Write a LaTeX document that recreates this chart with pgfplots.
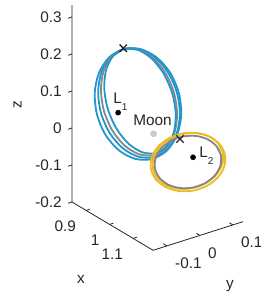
\documentclass[border=0pt]{standalone}
\usepackage{pgfplots}
\pgfplotsset{compat=1.18}
\usepackage{fontspec}
\setmainfont{Liberation Sans}
\definecolor{orbblue}{RGB}{32,150,205}
\definecolor{orbgray}{RGB}{135,135,135}
\definecolor{orbyellow}{RGB}{237,188,35}
\definecolor{moongray}{RGB}{200,200,206}
\definecolor{axcol}{RGB}{38,38,38}
\tikzset{lbl/.style={font=\fontsize{11.5}{13}\selectfont, text=axcol, inner sep=0pt}}
\newcommand{\sub}[1]{\raisebox{-5.25pt}{\fontsize{7.5}{8}\selectfont #1}}
\begin{document}
\begin{tikzpicture}
\begin{axis}[
  x={(176.25pt,-105pt)}, y={(247.5pt,78.75pt)}, z={(0pt,277.5pt)},
  hide axis, clip=false,
  xmin=0.84, xmax=1.185, ymin=-0.142, ymax=0.131, zmin=-0.2, zmax=0.332,
]
\coordinate (corner) at (axis cs:0.84,-0.142,-0.2);
% axis lines
\draw[axcol, line width=0.6pt] (axis cs:0.84,-0.142,0.332) -- (axis cs:0.84,-0.142,-0.2) -- (axis cs:1.185,-0.142,-0.2) -- (axis cs:1.185,0.131,-0.2);
% z ticks
\draw[axcol, line width=0.6pt] (axis cs:0.84,-0.142,-0.2) -- (axis cs:0.84,-0.154,-0.2)
 (axis cs:0.84,-0.142,-0.1) -- (axis cs:0.84,-0.154,-0.1)
 (axis cs:0.84,-0.142,0) -- (axis cs:0.84,-0.154,0)
 (axis cs:0.84,-0.142,0.1) -- (axis cs:0.84,-0.154,0.1)
 (axis cs:0.84,-0.142,0.2) -- (axis cs:0.84,-0.154,0.2)
 (axis cs:0.84,-0.142,0.3) -- (axis cs:0.84,-0.154,0.3);
% x ticks
\draw[axcol, line width=0.6pt] (axis cs:0.9,-0.142,-0.2) -- (axis cs:0.9,-0.130,-0.2)
 (axis cs:1.0,-0.142,-0.2) -- (axis cs:1.0,-0.130,-0.2)
 (axis cs:1.1,-0.142,-0.2) -- (axis cs:1.1,-0.130,-0.2);
% y ticks
\draw[axcol, line width=0.6pt] (axis cs:1.185,-0.1,-0.2) -- (axis cs:1.170,-0.1,-0.2)
 (axis cs:1.185,0,-0.2) -- (axis cs:1.170,0,-0.2)
 (axis cs:1.185,0.1,-0.2) -- (axis cs:1.170,0.1,-0.2);
% tick labels
\node[lbl, anchor=east, xshift=-7.5pt] at (axis cs:0.84,-0.142,-0.2) {-0.2};
\node[lbl, anchor=east, xshift=-7.5pt] at (axis cs:0.84,-0.142,-0.1) {-0.1};
\node[lbl, anchor=east, xshift=-7.5pt] at (axis cs:0.84,-0.142,0) {0};
\node[lbl, anchor=east, xshift=-7.5pt] at (axis cs:0.84,-0.142,0.1) {0.1};
\node[lbl, anchor=east, xshift=-7.5pt] at (axis cs:0.84,-0.142,0.2) {0.2};
\node[lbl, anchor=east, xshift=-7.5pt] at (axis cs:0.84,-0.142,0.3) {0.3};
\node[lbl, anchor=north east, xshift=-7.5pt, yshift=-7.5pt] at (axis cs:0.9,-0.142,-0.2) {0.9};
\node[lbl, anchor=north east, xshift=-7.5pt, yshift=-7.5pt] at (axis cs:1.0,-0.142,-0.2) {1};
\node[lbl, anchor=north east, xshift=-7.5pt, yshift=-7.5pt] at (axis cs:1.1,-0.142,-0.2) {1.1};
\node[lbl, anchor=north west, xshift=6pt, yshift=-9pt] at (axis cs:1.185,-0.1,-0.2) {-0.1};
\node[lbl, anchor=north west, xshift=6pt, yshift=-9pt] at (axis cs:1.185,0,-0.2) {0};
\node[lbl, anchor=north west, xshift=6pt, yshift=-9pt] at (axis cs:1.185,0.1,-0.2) {0.1};
% axis labels
\node[lbl, rotate=90] at ([xshift=-40.9pt]axis cs:0.84,-0.142,0.062) {z};
\node[lbl] at ([xshift=6.75pt, yshift=-57.75pt]corner) {x};
\node[lbl] at ([xshift=118.5pt, yshift=-63pt]corner) {y};

% L1 orbits
\addplot3[orbblue, line width=1.35pt, smooth] coordinates {
(0.87,-0.0502,0.1766) (0.87,-0.0058,0.1862) (0.87,0.0450,0.1714) (0.87,0.0944,0.1342) (0.87,0.1352,0.0806)
(0.87,0.1608,0.0186) (0.87,0.1676,-0.0424) (0.87,0.1544,-0.0930) (0.87,0.1234,-0.1256)
(0.87,0.0790,-0.1352) (0.87,0.0282,-0.1204) (0.87,-0.0212,-0.0832) (0.87,-0.0620,-0.0296)
(0.87,-0.0876,0.0324) (0.87,-0.0944,0.0934) (0.87,-0.0812,0.1440) (0.87,-0.0502,0.1766)
(0.87,-0.0058,0.1862) (0.87,0.0450,0.1714)};
\addplot3[orbblue, line width=1.35pt, smooth] coordinates {
(0.87,-0.0464,0.1762) (0.87,-0.0058,0.1862) (0.87,0.0418,0.1720) (0.87,0.0889,0.1357) (0.87,0.1287,0.0830)
(0.87,0.1549,0.0218) (0.87,0.1635,-0.0386) (0.87,0.1533,-0.0889) (0.87,0.1258,-0.1214)
(0.87,0.0852,-0.1314) (0.87,0.0376,-0.1172) (0.87,-0.0095,-0.0809) (0.87,-0.0493,-0.0282)
(0.87,-0.0755,0.0330) (0.87,-0.0841,0.0934) (0.87,-0.0739,0.1437) (0.87,-0.0464,0.1762)
(0.87,-0.0058,0.1862) (0.87,0.0418,0.1720)};
\addplot3[orbgray, line width=1.35pt, smooth] coordinates {
(0.87,-0.0429,0.1765) (0.87,-0.0058,0.1862) (0.87,0.0383,0.1721) (0.87,0.0825,0.1364) (0.87,0.1203,0.0845)
(0.87,0.1458,0.0243) (0.87,0.1551,-0.0351) (0.87,0.1469,-0.0844) (0.87,0.1223,-0.1163)
(0.87,0.0852,-0.1260) (0.87,0.0411,-0.1119) (0.87,-0.0031,-0.0762) (0.87,-0.0409,-0.0243)
(0.87,-0.0664,0.0359) (0.87,-0.0757,0.0953) (0.87,-0.0675,0.1446) (0.87,-0.0429,0.1765)
(0.87,-0.0058,0.1862) (0.87,0.0383,0.1721)};
\addplot3[orbblue, line width=1.35pt, smooth] coordinates {
(0.87,-0.0393,0.1762) (0.87,-0.0058,0.1862) (0.87,0.0351,0.1728) (0.87,0.0770,0.1378) (0.87,0.1137,0.0868)
(0.87,0.1397,0.0274) (0.87,0.1509,-0.0314) (0.87,0.1456,-0.0804) (0.87,0.1247,-0.1124)
(0.87,0.0912,-0.1224) (0.87,0.0503,-0.1090) (0.87,0.0084,-0.0740) (0.87,-0.0283,-0.0230)
(0.87,-0.0543,0.0364) (0.87,-0.0655,0.0952) (0.87,-0.0602,0.1442) (0.87,-0.0393,0.1762)
(0.87,-0.0058,0.1862) (0.87,0.0351,0.1728)};

% L2 orbits
\addplot3[orbyellow, line width=1.35pt, smooth] coordinates {
(1.16,0.0788,0.0135) (1.16,0.0937,-0.0188) (1.16,0.0916,-0.0491) (1.16,0.0727,-0.0728) (1.16,0.0399,-0.0864)
(1.16,-0.0017,-0.0877) (1.16,-0.0459,-0.0766) (1.16,-0.0859,-0.0546) (1.16,-0.1156,-0.0253)
(1.16,-0.1305,0.0070) (1.16,-0.1284,0.0373) (1.16,-0.1095,0.0610) (1.16,-0.0767,0.0746)
(1.16,-0.0351,0.0759) (1.16,0.0091,0.0648) (1.16,0.0491,0.0428) (1.16,0.0788,0.0135)
(1.16,0.0937,-0.0188) (1.16,0.0916,-0.0491)};
\addplot3[orbyellow, line width=1.35pt, smooth] coordinates {
(1.16,0.0738,0.0173) (1.16,0.0877,-0.0130) (1.16,0.0854,-0.0419) (1.16,0.0673,-0.0648) (1.16,0.0362,-0.0784)
(1.16,-0.0032,-0.0805) (1.16,-0.0450,-0.0708) (1.16,-0.0827,-0.0510) (1.16,-0.1106,-0.0237)
(1.16,-0.1245,0.0066) (1.16,-0.1222,0.0355) (1.16,-0.1041,0.0584) (1.16,-0.0730,0.0720)
(1.16,-0.0336,0.0741) (1.16,0.0082,0.0644) (1.16,0.0459,0.0446) (1.16,0.0738,0.0173)
(1.16,0.0877,-0.0130) (1.16,0.0854,-0.0419)};
\addplot3[orbgray, line width=1.35pt, smooth] coordinates {
(1.16,0.0682,0.0121) (1.16,0.0816,-0.0167) (1.16,0.0798,-0.0439) (1.16,0.0630,-0.0653) (1.16,0.0339,-0.0776)
(1.16,-0.0032,-0.0791) (1.16,-0.0427,-0.0694) (1.16,-0.0784,-0.0501) (1.16,-0.1050,-0.0239)
(1.16,-0.1184,0.0049) (1.16,-0.1166,0.0321) (1.16,-0.0998,0.0535) (1.16,-0.0707,0.0658)
(1.16,-0.0336,0.0673) (1.16,0.0059,0.0576) (1.16,0.0416,0.0383) (1.16,0.0682,0.0121)
(1.16,0.0816,-0.0167) (1.16,0.0798,-0.0439)};

% points
\addplot3[only marks, mark=*, mark size=2.3pt, color=moongray] coordinates {(0.9878,0,0)};
\addplot3[only marks, mark=*, mark size=1.9pt, black] coordinates {(0.8369,0,0) (1.1557,0,0)};
\addplot3[only marks, mark=x, mark size=3.9pt, black!85, line width=1pt] coordinates {(0.87,-0.008,0.189) (1.16,-0.0426,0.0631)};

\node[lbl, anchor=base west, xshift=-3.75pt, yshift=6.75pt] at (axis cs:0.8369,0,0) {L\sub{1}};
\node[lbl, anchor=base west, xshift=4.5pt, yshift=0pt] at (axis cs:1.1557,0,0) {L\sub{2}};
\node[lbl, anchor=base, xshift=-0.75pt, yshift=6pt] at (axis cs:0.9878,0,0) {Moon};
\end{axis}
\pgfresetboundingbox
\path (corner) ++(-54pt,-72pt) rectangle ++(195.75pt,223.5pt);
\end{tikzpicture}
\end{document}
